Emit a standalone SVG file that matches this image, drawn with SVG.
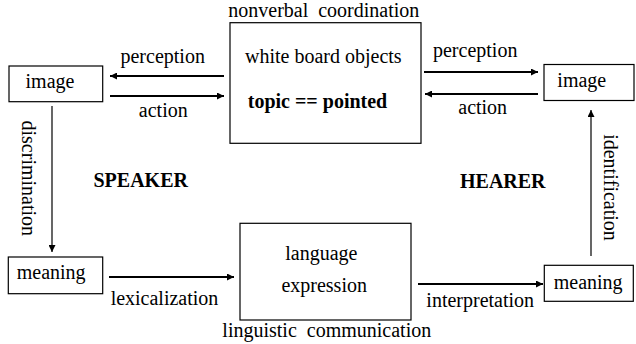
<svg xmlns="http://www.w3.org/2000/svg" width="636" height="344" viewBox="0 0 636 344">
<style>
text{font-family:"Liberation Serif","Times New Roman",serif;font-size:20px;fill:#000}
.b{font-weight:bold}
.box{fill:#fff;stroke:#000;stroke-width:1.2}
.arr{stroke:#000;stroke-width:2.2;fill:none;marker-end:url(#ah)}
.thin{stroke:#000;stroke-width:1.2;fill:none;marker-end:url(#ah)}
</style>
<defs>
<marker id="ah" viewBox="0 0 10 10" refX="10" refY="5" markerWidth="9" markerHeight="7" markerUnits="userSpaceOnUse" orient="auto">
<path d="M0,0 L10,5 L0,10 z" fill="#000"/>
</marker>
</defs>
<rect width="636" height="344" fill="#fff"/>
<g id="connectors">
<line class="arr" x1="224" y1="76" x2="110" y2="76"/>
<line class="arr" x1="110" y1="96" x2="224" y2="96"/>
<line class="arr" x1="424" y1="72" x2="538" y2="72"/>
<line class="arr" x1="538" y1="94" x2="425" y2="94"/>
<line class="thin" x1="52" y1="106" x2="52" y2="252"/>
<line class="thin" x1="591" y1="256" x2="591" y2="110"/>
<line class="arr" x1="109" y1="277" x2="234" y2="277"/>
<line class="arr" x1="418" y1="284" x2="543" y2="284"/>
<text x="162.7" y="63.3" text-anchor="middle">perception</text>
<text x="163.3" y="116.7" text-anchor="middle">action</text>
<text x="475.2" y="56.7" text-anchor="middle">perception</text>
<text x="482.7" y="114" text-anchor="middle">action</text>
<text transform="translate(22 178.3) rotate(90)" text-anchor="middle">discrimination</text>
<text transform="translate(604 187.5) rotate(90)" text-anchor="middle">identification</text>
<text x="164.5" y="305.3" text-anchor="middle">lexicalization</text>
<text x="480.2" y="307" text-anchor="middle">interpretation</text>
</g>
<g id="image-left">
<rect class="box" x="9" y="66" width="93.7" height="35.7"/>
<text x="50" y="88.3" text-anchor="middle">image</text>
</g>
<g id="whiteboard">
<text x="323.8" y="17.3" text-anchor="middle" xml:space="preserve">nonverbal  coordination</text>
<rect class="box" x="230" y="22.7" width="191" height="120.6"/>
<text x="323.3" y="63.3" text-anchor="middle">white board objects</text>
<text class="b" x="317.5" y="108.3" text-anchor="middle">topic == pointed</text>
</g>
<g id="image-right">
<rect class="box" x="544" y="64.5" width="90" height="36"/>
<text x="581.8" y="87.3" text-anchor="middle">image</text>
</g>
<g id="speaker">
<text class="b" x="140.7" y="186.7" text-anchor="middle">SPEAKER</text>
</g>
<g id="hearer">
<text class="b" x="502.8" y="188.3" text-anchor="middle">HEARER</text>
</g>
<g id="meaning-left">
<rect class="box" x="8.3" y="257" width="94.4" height="36.7"/>
<text x="51.2" y="279.3" text-anchor="middle">meaning</text>
</g>
<g id="language">
<rect class="box" x="240" y="223.3" width="171" height="96.7"/>
<text x="321.3" y="260" text-anchor="middle">language</text>
<text x="324.2" y="291.7" text-anchor="middle">expression</text>
<text x="326.8" y="336.7" text-anchor="middle" xml:space="preserve">linguistic  communication</text>
</g>
<g id="meaning-right">
<rect class="box" x="544.3" y="265.3" width="89" height="36"/>
<text x="588.2" y="288.7" text-anchor="middle">meaning</text>
</g>
</svg>
